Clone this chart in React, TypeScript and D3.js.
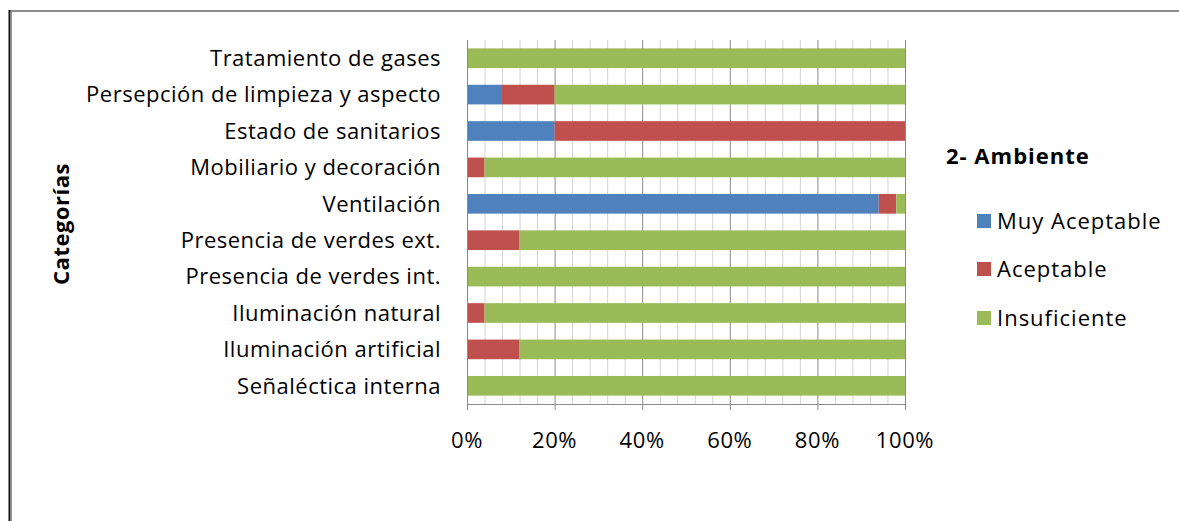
import { useRef, useEffect } from "react";
import * as d3 from "d3";

const categories = [
  "Tratamiento de gases",
  "Persepción de limpieza y aspecto",
  "Estado de sanitarios",
  "Mobiliario y decoración",
  "Ventilación",
  "Presencia de verdes ext.",
  "Presencia de verdes int.",
  "Iluminación natural",
  "Iluminación artificial",
  "Señaléctica interna",
];
const seriesNames = ["Muy Aceptable", "Aceptable", "Insuficiente"];
const muyAceptable = [0, 8, 20, 0, 94, 0, 0, 0, 0, 0];
const aceptable = [0, 12, 80, 4, 4, 12, 0, 4, 12, 0];
const insuficiente = [100, 80, 0, 96, 2, 88, 100, 96, 88, 100];
const colors = ["#4F81BD", "#C0504D", "#9BBB59"];
const xTicks = [0, 20, 40, 60, 80, 100];

const font = "'Open Sans', sans-serif";

export default function App() {
  const svgRef = useRef<SVGSVGElement>(null);

  useEffect(() => {
    if (!svgRef.current) return;
    const width = 1179;
    const height = 521;
    const svg = d3.select(svgRef.current);
    svg.selectAll("*").remove();
    svg.attr("width", width).attr("height", height);

    svg.append("rect").attr("width", width).attr("height", height).attr("fill", "#fff");

    // frame
    svg.append("line").attr("x1", 10).attr("x2", width).attr("y1", 11).attr("y2", 11)
      .attr("stroke", "#8c8c8c").attr("stroke-width", 2);
    svg.append("line").attr("x1", 9.5).attr("x2", 9.5).attr("y1", 10).attr("y2", height)
      .attr("stroke", "#111").attr("stroke-width", 2);
    svg.append("line").attr("x1", 11.5).attr("x2", 11.5).attr("y1", 12).attr("y2", height)
      .attr("stroke", "#999").attr("stroke-width", 1);

    const left = 467, right = 905, top = 40, bottom = 404;
    const x = d3.scaleLinear().domain([0, 100]).range([left, right]);
    const y = d3.scaleBand<string>().domain(categories).range([top, bottom]).paddingInner(0.46).paddingOuter(0.23);

    const g = svg.append("g");

    // minor grid
    g.append("g").selectAll("line")
      .data(d3.range(4, 100, 4).filter((v) => v % 20 !== 0))
      .join("line")
      .attr("x1", (d) => x(d) + 0.5).attr("x2", (d) => x(d) + 0.5)
      .attr("y1", top).attr("y2", bottom)
      .attr("stroke", "#d4d4d4");
    // major grid
    g.append("g").selectAll("line")
      .data(xTicks.slice(1))
      .join("line")
      .attr("x1", (d) => x(d) + 0.5).attr("x2", (d) => x(d) + 0.5)
      .attr("y1", top).attr("y2", bottom)
      .attr("stroke", "#8a8a8a");

    const data = categories.map((c, i) => ({
      cat: c,
      "Muy Aceptable": muyAceptable[i],
      Aceptable: aceptable[i],
      Insuficiente: insuficiente[i],
    }));
    const stacked = d3.stack<any>().keys(seriesNames)(data);

    stacked.forEach((s, si) => {
      g.append("g").selectAll("rect")
        .data(s)
        .join("rect")
        .attr("x", (d) => x(d[0]))
        .attr("y", (d) => y(d.data.cat)!)
        .attr("width", (d) => x(d[1]) - x(d[0]))
        .attr("height", y.bandwidth())
        .attr("fill", colors[si]);
    });

    // axes
    g.append("line").attr("x1", left + 0.5).attr("x2", left + 0.5).attr("y1", top).attr("y2", bottom)
      .attr("stroke", "#8a8a8a");
    g.append("line").attr("x1", left).attr("x2", right + 1).attr("y1", bottom + 0.5).attr("y2", bottom + 0.5)
      .attr("stroke", "#8a8a8a");
    g.append("g").selectAll("line")
      .data(xTicks)
      .join("line")
      .attr("x1", (d) => x(d) + 0.5).attr("x2", (d) => x(d) + 0.5)
      .attr("y1", bottom).attr("y2", bottom + 6)
      .attr("stroke", "#8a8a8a");
    g.append("g").selectAll("text")
      .data(xTicks)
      .join("text")
      .attr("x", (d) => x(d))
      .attr("y", 448)
      .attr("text-anchor", "middle")
      .attr("font-family", font)
      .attr("font-size", 22)
      .attr("letter-spacing", 0.6)
      .attr("fill", "#000")
      .text((d) => `${d}%`);

    // category labels
    g.append("g").selectAll("text")
      .data(categories)
      .join("text")
      .attr("x", 441)
      .attr("y", (d) => y(d)! + y.bandwidth() / 2)
      .attr("dy", "0.35em")
      .attr("text-anchor", "end")
      .attr("font-family", font)
      .attr("font-size", 22)
      .attr("letter-spacing", 0.5)
      .attr("fill", "#000")
      .text((d) => d);

    // y axis title
    svg.append("text")
      .attr("transform", "translate(69,224) rotate(-90)")
      .attr("text-anchor", "middle")
      .attr("font-family", font)
      .attr("font-weight", "bold")
      .attr("font-size", 22)
      .attr("letter-spacing", 0.5)
      .text("Categorías");

    // legend
    svg.append("text")
      .attr("x", 946).attr("y", 164)
      .attr("font-family", font)
      .attr("font-weight", "bold")
      .attr("font-size", 22)
      .attr("letter-spacing", 1)
      .text("2- Ambiente");

    const legY = [221, 269, 318];
    const leg = svg.append("g");
    seriesNames.forEach((n, i) => {
      leg.append("rect").attr("x", 977).attr("y", legY[i] - 7).attr("width", 14).attr("height", 14)
        .attr("fill", colors[i]);
      leg.append("text").attr("x", 997).attr("y", legY[i]).attr("dy", "0.35em")
        .attr("font-family", font).attr("font-size", 22).attr("letter-spacing", 1).text(n);
    });
  }, []);

  return (
    <svg ref={svgRef} style={{ position: "absolute", left: 0, top: 0, display: "block" }} />
  );
}
